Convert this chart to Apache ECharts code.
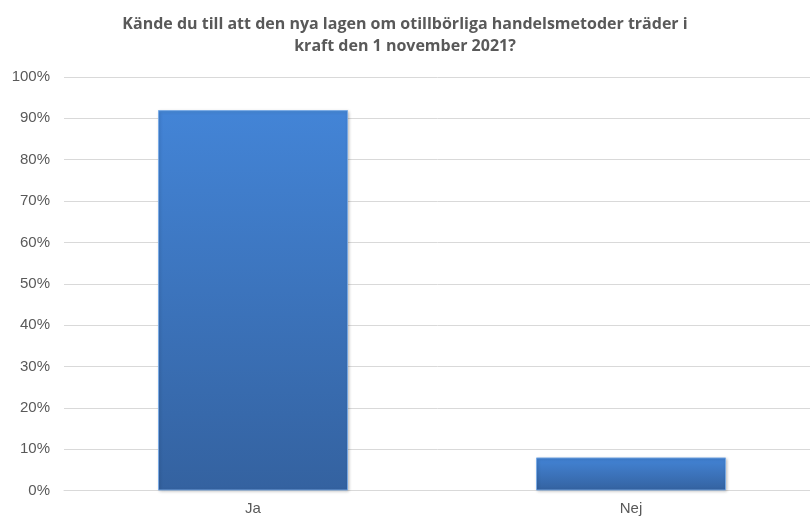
<!DOCTYPE html>
<html>
<head>
<meta charset="utf-8">
<script src="https://cdn.jsdelivr.net/npm/echarts@6/dist/echarts.min.js"></script>
<style>
html,body{margin:0;padding:0;background:#fff;}
#chart{width:810px;height:517px;}
</style>
</head>
<body>
<div id="chart"></div>
<script>
const titleText = 'Kände du till att den nya lagen om otillbörliga handelsmetoder träder i\nkraft den 1 november 2021?';
const categories = ['Ja', 'Nej'];
const values = [92, 8];
const yTicks = [0, 10, 20, 30, 40, 50, 60, 70, 80, 90, 100];

const chart = echarts.init(document.getElementById('chart'), null, {renderer: 'canvas'});
chart.setOption({
  animation: false,
  backgroundColor: '#ffffff',
  title: {
    text: titleText,
    left: 'center',
    top: 8,
    textStyle: {
      fontFamily: 'Open Sans',
      fontSize: 16,
      fontWeight: 'bold',
      color: '#595959',
      lineHeight: 22
    }
  },
  grid: {
    left: 64,
    right: -10,
    top: 77,
    bottom: 26.5,
    containLabel: false,
    outerBoundsMode: 'none'
  },
  xAxis: {
    type: 'category',
    data: categories,
    axisLine: {show: true, lineStyle: {color: '#d9d9d9', width: 1}},
    axisTick: {show: false},
    axisLabel: {
      color: '#595959',
      fontFamily: 'Liberation Sans',
      fontSize: 15,
      margin: 11
    }
  },
  yAxis: {
    type: 'value',
    min: 0,
    max: 100,
    interval: 10,
    axisLine: {show: false},
    axisTick: {show: false},
    splitLine: {lineStyle: {color: '#d9d9d9', width: 1}},
    axisLabel: {
      color: '#595959',
      fontFamily: 'Liberation Sans',
      fontSize: 15,
      margin: 14,
      formatter: function (v) { return yTicks.indexOf(v) >= 0 ? v + '%' : ''; }
    }
  },
  series: [{
    type: 'bar',
    data: values,
    barWidth: 190,
    itemStyle: {
      color: new echarts.graphic.LinearGradient(0, 0, 0, 1, [
        {offset: 0, color: '#4a8fe0'},
        {offset: 0.01, color: '#4384d6'},
        {offset: 1, color: '#3462a0'}
      ]),
      borderColor: 'rgba(120,170,230,0.9)',
      borderWidth: 1,
      shadowColor: 'rgba(0,0,0,0.25)',
      shadowBlur: 3,
      shadowOffsetX: 1,
      shadowOffsetY: 1
    }
  }]
});
</script>
</body>
</html>
